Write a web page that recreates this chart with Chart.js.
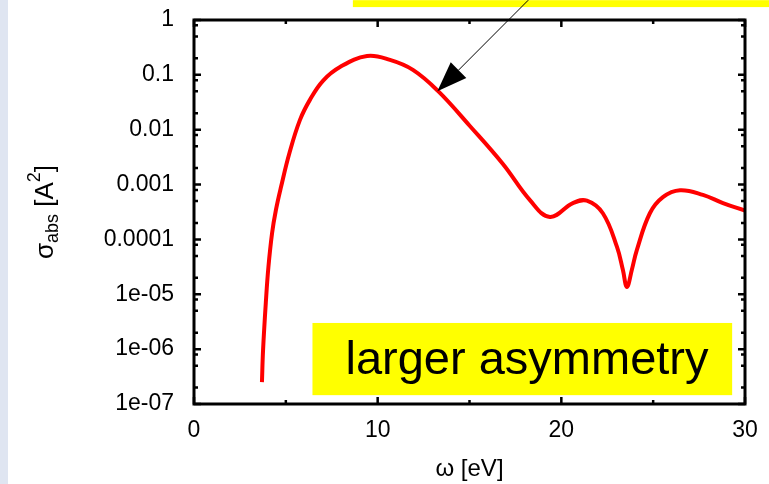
<!DOCTYPE html>
<html>
<head>
<meta charset="utf-8">
<script src="https://cdn.jsdelivr.net/npm/chart.js@4/dist/chart.umd.min.js"></script>
<style>
  body { margin: 0; background: #ffffff; }
  #strip { position: absolute; left: 0; top: 0; width: 8px; height: 484px; background: #dfe5f1; }
  #box { position: absolute; left: 0; top: 0; width: 769px; height: 484px; }
</style>
</head>
<body>
<div id="strip"></div>
<div id="box"><canvas id="absChart"></canvas></div>
<script>
// 吸收截面 σ_abs(ω)，读自原图
var omega = [3.70, 3.76, 3.92, 4.05, 4.25, 4.46, 4.74, 5.20, 5.77, 6.31, 7.02, 7.95, 9.42,
             10.67, 11.92, 13.28, 15.02, 16.82, 18.29, 19.38, 20.63, 21.39, 22.26, 23.03, 23.35,
             23.57, 23.84, 24.11, 24.82, 25.53, 26.46, 27.71, 28.8, 30.0];
var sigmaAbs = [2.5e-7, 9.6e-7, 7.9e-6, 3.1e-5, 1.3e-4, 3.44e-4, 9.1e-4, 3.8e-3, 0.0151, 0.035, 0.078, 0.139, 0.22,
                0.187, 0.123, 0.051, 0.0117, 0.00237, 5.2e-4, 2.57e-4, 4.6e-4, 5.1e-4, 3.0e-4, 7.3e-5, 2.8e-5,
                1.36e-5, 2.8e-5, 6.4e-5, 3.0e-4, 5.9e-4, 7.9e-4, 6.5e-4, 4.6e-4, 3.35e-4];

// 刻度
var xMajorTicks = [0, 10, 20, 30];
var xMinorTicks = [5, 15, 25];
var yTickValues = [1, 0.1, 0.01, 0.001, 0.0001, 1e-5, 1e-6, 1e-7];
var yTickLabels = ['1', '0.1', '0.01', '0.001', '0.0001', '1e-05', '1e-06', '1e-07'];
var yMinorFactors = [2, 5, 8];

// 注释 (数据坐标)
var noteText = 'larger asymmetry';
var noteBox = [6.45, 29.3, 3.0e-6, 1.45e-7];   // x0, x1, yTop, yBottom
var topBox = [8.65, 31.5, 2.3, 1.72];
var arrowTail = [18.2, 2.3];
var arrowTip = [13.25, 0.05];

var FONT = '"Liberation Sans", Arial, sans-serif';

// 边框、内向刻度、标注和轴标题
var framePlugin = {
    id: 'frame',
    afterDraw: function(chart) {
        var ctx = chart.ctx;
        var a = chart.chartArea;
        var xs = chart.scales.x, ys = chart.scales.y;
        ctx.save();
        ctx.strokeStyle = '#000';
        ctx.lineWidth = 2.5;
        ctx.lineCap = 'butt';
        // 刻度
        function tickX(v, len) {
            var px = xs.getPixelForValue(v);
            ctx.beginPath();
            ctx.moveTo(px, a.bottom); ctx.lineTo(px, a.bottom - len);
            ctx.moveTo(px, a.top); ctx.lineTo(px, a.top + len);
            ctx.stroke();
        }
        function tickY(v, len) {
            var py = ys.getPixelForValue(v);
            ctx.beginPath();
            ctx.moveTo(a.left, py); ctx.lineTo(a.left + len, py);
            ctx.moveTo(a.right, py); ctx.lineTo(a.right - len, py);
            ctx.stroke();
        }
        xMajorTicks.forEach(function(v) { tickX(v, 7); });
        xMinorTicks.forEach(function(v) { tickX(v, 4); });
        yTickValues.forEach(function(v) { tickY(v, 7); });
        yTickValues.forEach(function(v) {
            if (v >= 1) return;
            yMinorFactors.forEach(function(f) { tickY(v * f, 4); });
        });
        // 外框
        ctx.lineWidth = 3;
        ctx.strokeRect(a.left, a.top, a.right - a.left, a.bottom - a.top);

        // 黄色标注框
        ctx.fillStyle = '#ffff00';
        var bx0 = xs.getPixelForValue(noteBox[0]), bx1 = xs.getPixelForValue(noteBox[1]);
        var by0 = ys.getPixelForValue(noteBox[2]), by1 = ys.getPixelForValue(noteBox[3]);
        ctx.fillRect(bx0, by0, bx1 - bx0, by1 - by0);
        var tx0 = xs.getPixelForValue(topBox[0]), tx1 = xs.getPixelForValue(topBox[1]);
        var ty0 = ys.getPixelForValue(topBox[2]), ty1 = ys.getPixelForValue(topBox[3]);
        ctx.fillRect(tx0, ty0, tx1 - tx0, ty1 - ty0);
        ctx.fillStyle = '#000';
        ctx.font = '47px ' + FONT;
        ctx.textBaseline = 'alphabetic';
        ctx.textAlign = 'left';
        ctx.fillText(noteText, bx0 + 33, by0 + 51);

        // 箭头
        var ax0 = xs.getPixelForValue(arrowTail[0]), ay0 = ys.getPixelForValue(arrowTail[1]);
        var ax1 = xs.getPixelForValue(arrowTip[0]), ay1 = ys.getPixelForValue(arrowTip[1]);
        var ang = Math.atan2(ay1 - ay0, ax1 - ax0);
        var hl = 30, hw = 11;
        var bxm = ax1 - hl * Math.cos(ang), bym = ay1 - hl * Math.sin(ang);
        ctx.lineWidth = 1;
        ctx.beginPath();
        ctx.moveTo(ax0, ay0); ctx.lineTo(bxm, bym);
        ctx.stroke();
        ctx.beginPath();
        ctx.moveTo(ax1, ay1);
        ctx.lineTo(bxm + hw * Math.sin(ang), bym - hw * Math.cos(ang));
        ctx.lineTo(bxm - hw * Math.sin(ang), bym + hw * Math.cos(ang));
        ctx.closePath();
        ctx.fill();

        // x 轴标题
        ctx.font = '24px ' + FONT;
        ctx.textAlign = 'center';
        ctx.fillText('ω [eV]', (a.left + a.right) / 2, 476);

        // y 轴标题 σ_abs [A²]
        var big = '26px ' + FONT, small = '18px ' + FONT;
        var parts = [
            { t: 'σ', f: big, dy: 0 },
            { t: 'abs', f: small, dy: 5 },
            { t: ' [A', f: big, dy: 0 },
            { t: '2', f: small, dy: -13 },
            { t: ']', f: big, dy: 0 }
        ];
        var total = 0;
        parts.forEach(function(p) { ctx.font = p.f; p.w = ctx.measureText(p.t).width; total += p.w; });
        ctx.translate(44, (a.top + a.bottom) / 2);
        ctx.rotate(-Math.PI / 2);
        ctx.textAlign = 'left';
        var cx = -total / 2;
        parts.forEach(function(p) {
            ctx.font = p.f;
            ctx.fillText(p.t, cx, 9 + p.dy);
            cx += p.w;
        });
        ctx.restore();
    }
};

var points = omega.map(function(w, i) { return { x: w, y: sigmaAbs[i] }; });

new Chart(document.getElementById('absChart'), {
    type: 'line',
    data: {
        datasets: [{
            label: 'σ_abs',
            data: points,
            borderColor: '#ff0000',
            borderWidth: 4,
            pointRadius: 0,
            fill: false,
            tension: 0.4
        }]
    },
    options: {
        responsive: true,
        maintainAspectRatio: false,
        animation: false,
        layout: { padding: { left: 0, top: 20, right: 24, bottom: 0 } },
        plugins: { legend: { display: false }, tooltip: { enabled: false } },
        scales: {
            x: {
                type: 'linear',
                min: 0, max: 30,
                grid: { display: false, drawTicks: false },
                border: { display: false },
                ticks: {
                    stepSize: 10,
                    padding: 13,
                    color: '#000',
                    font: { family: FONT, size: 23 },
                    maxRotation: 0
                },
                afterFit: function(s) { s.height = 80; s.paddingLeft = 0; s.paddingRight = 0; }
            },
            y: {
                type: 'logarithmic',
                min: 1e-7, max: 1,
                grid: { display: false, drawTicks: false },
                border: { display: false },
                afterBuildTicks: function(s) {
                    s.ticks = yTickValues.map(function(v) { return { value: v }; });
                },
                ticks: {
                    autoSkip: false,
                    padding: 20,
                    color: '#000',
                    font: { family: FONT, size: 23 },
                    callback: function(value) {
                        var i = yTickValues.indexOf(value);
                        return i >= 0 ? yTickLabels[i] : '';
                    }
                },
                afterFit: function(s) { s.width = 194; s.paddingTop = 0; s.paddingBottom = 0; }
            }
        }
    },
    plugins: [framePlugin]
});
</script>
</body>
</html>
